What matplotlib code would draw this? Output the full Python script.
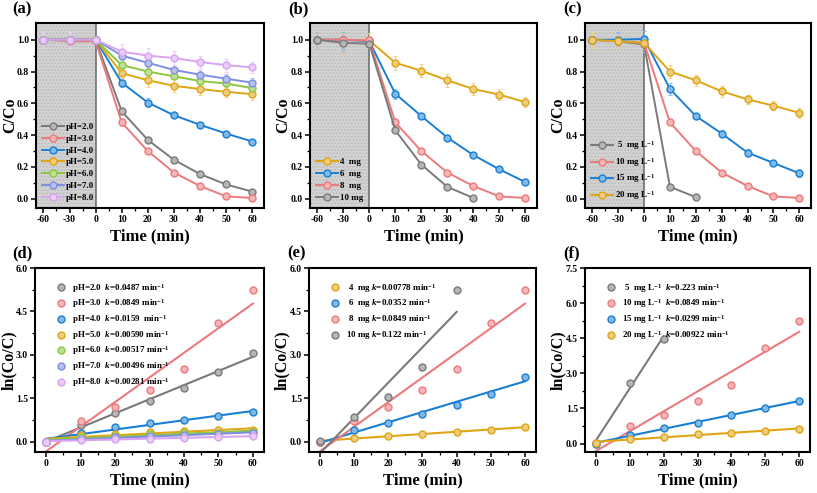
import numpy as np
import matplotlib
matplotlib.use('Agg')
import matplotlib.pyplot as plt
from matplotlib.colors import to_rgb

plt.rcParams['font.family'] = 'Liberation Serif'
plt.rcParams['font.weight'] = 'bold'
plt.rcParams['mathtext.fontset'] = 'custom'
plt.rcParams['mathtext.rm'] = 'Liberation Serif:bold'
plt.rcParams['mathtext.it'] = 'Liberation Serif:italic:bold'
plt.rcParams['mathtext.bf'] = 'Liberation Serif:bold'
plt.rcParams['axes.unicode_minus'] = False

# ---------------- data ----------------
t_full = [-60, -30, 0, 10, 20, 30, 40, 50, 60]
t_fit = [0, 10, 20, 30, 40, 50, 60]

GRAY = '#7a7a7a'
RED = '#ec7a7c'
BLUE = '#1a7fd4'
ORANGE = '#e0a514'
GREEN = '#8cc63f'
BLUEP = '#7d8fe0'
VIOLET = '#d9a3f2'

# (a) effect of pH, C/C0
ph_labels = ['pH=2.0', 'pH=3.0', 'pH=4.0', 'pH=5.0', 'pH=6.0', 'pH=7.0', 'pH=8.0']
ph_colors = [GRAY, RED, BLUE, ORANGE, GREEN, BLUEP, VIOLET]
ph_cc0 = [
    [1.0, 1.0, 1.0, 0.55, 0.37, 0.245, 0.155, 0.09, 0.045],
    [1.0, 0.99, 0.99, 0.48, 0.30, 0.165, 0.08, 0.015, 0.005],
    [1.0, 1.0, 1.0, 0.73, 0.605, 0.525, 0.465, 0.41, 0.36],
    [1.0, 1.0, 1.0, 0.79, 0.745, 0.71, 0.69, 0.672, 0.658],
    [1.0, 1.0, 1.0, 0.84, 0.80, 0.77, 0.74, 0.725, 0.695],
    [1.0, 1.0, 1.0, 0.90, 0.855, 0.81, 0.78, 0.755, 0.73],
    [1.0, 1.0, 1.0, 0.925, 0.90, 0.885, 0.86, 0.84, 0.826],
]
ph_err = [
    [0.02, 0.02, 0.02, 0.01, 0.01, 0.01, 0.01, 0.01, 0.01],
    [0.05, 0.03, 0.02, 0.02, 0.01, 0.01, 0.01, 0.01, 0.01],
    [0.02, 0.02, 0.02, 0.03, 0.03, 0.02, 0.02, 0.01, 0.01],
    [0.02, 0.02, 0.02, 0.03, 0.04, 0.04, 0.035, 0.035, 0.035],
    [0.02, 0.02, 0.02, 0.02, 0.02, 0.02, 0.02, 0.02, 0.02],
    [0.02, 0.05, 0.02, 0.03, 0.03, 0.03, 0.03, 0.03, 0.03],
    [0.05, 0.05, 0.02, 0.05, 0.045, 0.045, 0.04, 0.04, 0.035],
]

# (b) catalyst dosage, C/C0
dose_labels = ['4  mg', '6  mg', '8  mg', '10 mg']
dose_colors = [ORANGE, BLUE, RED, GRAY]
dose_t = [t_full, t_full, t_full, t_full[:7]]
dose_cc0 = [
    [1.0, 1.0, 0.995, 0.855, 0.805, 0.745, 0.69, 0.655, 0.607],
    [1.0, 1.0, 0.99, 0.66, 0.52, 0.385, 0.275, 0.185, 0.105],
    [1.0, 1.0, 0.995, 0.48, 0.30, 0.165, 0.08, 0.015, 0.005],
    [1.0, 0.98, 0.975, 0.43, 0.215, 0.075, 0.005],
]
dose_err = [
    [0.05, 0.04, 0.05, 0.045, 0.04, 0.04, 0.035, 0.035, 0.03],
    [0.02, 0.05, 0.02, 0.03, 0.02, 0.015, 0.01, 0.01, 0.01],
    [0.02, 0.02, 0.02, 0.01, 0.01, 0.01, 0.01, 0.01, 0.01],
    [0.05, 0.05, 0.03, 0.01, 0.01, 0.01, 0.01],
]

# (c) initial concentration, C/C0
conc_labels = [' 5  mg L$^{-1}$', '10 mg L$^{-1}$', '15 mg L$^{-1}$', '20 mg L$^{-1}$']
conc_colors = [GRAY, RED, BLUE, ORANGE]
conc_t = [t_full[:5], t_full, t_full, t_full]
conc_cc0 = [
    [1.0, 0.99, 0.97, 0.075, 0.01],
    [1.0, 0.99, 0.98, 0.48, 0.30, 0.165, 0.08, 0.015, 0.005],
    [1.0, 1.0, 1.005, 0.69, 0.52, 0.41, 0.29, 0.225, 0.16],
    [1.0, 0.99, 0.98, 0.80, 0.745, 0.675, 0.625, 0.585, 0.54],
]
conc_err = [
    [0.05, 0.03, 0.05, 0.01, 0.01],
    [0.02, 0.02, 0.02, 0.01, 0.01, 0.01, 0.01, 0.01, 0.01],
    [0.02, 0.05, 0.05, 0.035, 0.02, 0.02, 0.02, 0.02, 0.02],
    [0.05, 0.04, 0.04, 0.04, 0.035, 0.035, 0.03, 0.03, 0.03],
]

# (d) kinetics pH, ln(C0/C)
ph_k = ['0.0487 ', '0.0849 ', '0.0159  ', '0.00590 ', '0.00517 ', '0.00496 ', '0.00281 ']
ph_ln = [
    [0.0, 0.60, 1.0, 1.4, 1.85, 2.4, 3.07],
    [0.0, 0.73, 1.2, 1.8, 2.5, 4.1, 5.25],
    [0.0, 0.31, 0.5, 0.64, 0.77, 0.89, 1.02],
    [0.0, 0.23, 0.29, 0.34, 0.37, 0.40, 0.42],
    [0.0, 0.17, 0.22, 0.26, 0.30, 0.32, 0.36],
    [0.0, 0.10, 0.16, 0.21, 0.25, 0.28, 0.31],
    [0.0, 0.08, 0.10, 0.12, 0.15, 0.17, 0.19],
]

# (e) kinetics dosage
dose_k = ['0.00778 ', '0.0352 ', '0.0849 ', '0.122 ']
dose_lbl2 = [' 4  mg', ' 6  mg', ' 8  mg', '10 mg']
dose_ln_t = [t_fit, t_fit, t_fit, t_fit[:5]]
dose_ln = [
    [0.0, 0.15, 0.21, 0.29, 0.36, 0.42, 0.50],
    [0.0, 0.41, 0.66, 0.96, 1.29, 1.67, 2.25],
    [0.0, 0.73, 1.2, 1.8, 2.5, 4.1, 5.25],
    [0.02, 0.85, 1.54, 2.58, 5.25],
]

# (f) kinetics concentration
conc_k = ['0.223 ', '0.0849 ', '0.0299 ', '0.00922 ']
conc_ln_t = [t_fit[:3], t_fit, t_fit, t_fit]
conc_ln = [
    [0.02, 2.57, 4.48],
    [0.0, 0.73, 1.2, 1.8, 2.5, 4.1, 5.25],
    [0.0, 0.37, 0.65, 0.90, 1.23, 1.50, 1.83],
    [0.02, 0.20, 0.29, 0.39, 0.47, 0.54, 0.62],
]


# ---------------- helpers ----------------
def tint(c, f=0.45):
    r = np.array(to_rgb(c))
    return tuple(r + (1 - r) * f)


def fwd(t):
    t = np.asarray(t, dtype=float)
    return np.where(t < 0, t / 30.0, t / 10.0)


def inv(p):
    p = np.asarray(p, dtype=float)
    return np.where(p < 0, p * 30.0, p * 10.0)


def style_axes(ax):
    for s in ax.spines.values():
        s.set_linewidth(1.5)
    ax.tick_params(which='major', direction='out', length=3.5, width=1.1, labelsize=7, pad=1.5)
    ax.tick_params(which='minor', direction='out', length=2, width=0.9)


def cc0_panel(ax, ts, ys, errs, colors, labels):
    ax.set_xscale('function', functions=(fwd, inv))
    ax.set_xlim(-68.5, 64.5)
    ax.set_ylim(-0.058, 1.105)
    ax.axvspan(-68.5, 0, facecolor='#d4d4d4', edgecolor='#bcbcbc', hatch='.....', lw=0, zorder=0)
    ax.axvline(0, color='#666666', lw=1.1, zorder=1)
    for t, y, e, c, lab in zip(ts, ys, errs, colors, labels):
        ax.errorbar(t, y, yerr=e, fmt='none', ecolor=tint(c, 0.5), elinewidth=0.8,
                    capsize=1.6, capthick=0.8, zorder=2)
        ax.plot(t, y, '-o', color=c, lw=1.4, ms=5, mfc=tint(c), mec=c, mew=1.0,
                label=lab, zorder=3)
    ax.set_xticks([-60, -30, 0, 10, 20, 30, 40, 50, 60])
    ax.set_xticklabels(['-60', '-30', '0', '10', '20', '30', '40', '50', '60'])
    ax.set_xticks([-45, -15, 5, 15, 25, 35, 45, 55], minor=True)
    ax.set_yticks(np.arange(0, 1.01, 0.2))
    ax.set_yticks(np.arange(0.1, 1.01, 0.2), minor=True)
    ax.yaxis.set_major_formatter(matplotlib.ticker.FormatStrFormatter('%.1f'))
    ax.set_xlabel('Time (min)', fontsize=12, fontweight='bold', labelpad=3)
    ax.set_ylabel('C/Co', fontsize=11.5, fontweight='bold')
    ax.legend(loc='lower left', frameon=False, fontsize=6.5, handlelength=2.4,
              handletextpad=0.2, labelspacing=0.38, borderaxespad=0.3,
              bbox_to_anchor=(0.0, 0.0))
    style_axes(ax)


def kin_panel(ax, ts, ys, colors, labels, ymax, ylow):
    for t, y, c, lab in zip(ts, ys, colors, labels):
        t = np.array(t, dtype=float)
        y = np.array(y, dtype=float)
        p = np.polyfit(t, y, 1)
        xx = np.array([t.min(), t.max()])
        ax.plot(xx, np.polyval(p, xx), '-', color=c, lw=1.5, zorder=2)
        ax.plot(t, y, 'o', color=c, ms=5, mfc=tint(c), mec=c, mew=1.0, label=lab, zorder=3)
    ax.set_xlim(-3.2, 63.2)
    ax.set_ylim(ylow, ymax)
    ax.set_xticks(np.arange(0, 61, 10))
    ax.set_xticks(np.arange(5, 60, 10), minor=True)
    ax.set_yticks(np.arange(0, ymax + 0.01, 1.5))
    ax.set_yticks(np.arange(0.75, ymax, 1.5), minor=True)
    ax.yaxis.set_major_formatter(matplotlib.ticker.FormatStrFormatter('%.1f'))
    ax.set_xlabel('Time (min)', fontsize=12, fontweight='bold', labelpad=3)
    ax.set_ylabel('ln(Co/C)', fontsize=11.5, fontweight='bold')
    ax.legend(loc='upper left', frameon=False, fontsize=6.5, handlelength=1.0,
              handletextpad=0.7, labelspacing=0.3, borderaxespad=0.5,
              bbox_to_anchor=(0.06, 0.97))
    style_axes(ax)


# ---------------- figure ----------------
fig = plt.figure(figsize=(8.17, 4.93), dpi=100)
W, H = 817.0, 493.0


def add_ax(x0, x1, ytop, ybot, ylab_right):
    ax = fig.add_axes([x0 / W, 1 - ybot / H, (x1 - x0) / W, (ybot - ytop) / H])
    ax._ylab = (ylab_right - x0) / (x1 - x0)
    return ax


axa = add_ax(36, 264, 23, 208, 18)
axb = add_ax(310, 537, 23, 208, 291)
axc = add_ax(585, 811, 23, 208, 566)
axd = add_ax(35, 264, 268, 452, 17)
axe = add_ax(309, 536, 268, 452, 290)
axf = add_ax(585, 810, 268, 452, 566)

cc0_panel(axa, [t_full] * 7, ph_cc0, ph_err, ph_colors, ph_labels)
cc0_panel(axb, dose_t, dose_cc0, dose_err, dose_colors, dose_labels)
cc0_panel(axc, conc_t, conc_cc0, conc_err, conc_colors, conc_labels)

kin_panel(axd, [t_fit] * 7, ph_ln, ph_colors,
          [f'{l}  $k$={k}min$^{{-1}}$' for l, k in zip(ph_labels, ph_k)], 6.0, -0.345)
kin_panel(axe, dose_ln_t, dose_ln, dose_colors,
          [f'{l} $k$={k}min$^{{-1}}$' for l, k in zip(dose_lbl2, dose_k)], 6.0, -0.345)
kin_panel(axf, conc_ln_t, conc_ln, conc_colors,
          [f'{l}  $k$={k}min$^{{-1}}$' for l, k in zip(conc_labels, conc_k)], 7.5, -0.36)

for ax in [axa, axb, axc, axd, axe, axf]:
    ax.yaxis.set_label_coords(ax._ylab, 0.5)

for lab, x, y in [('(a)', 22, 9), ('(b)', 298, 9), ('(c)', 573, 9),
                  ('(d)', 22, 253), ('(e)', 297, 253), ('(f)', 572, 253)]:
    fig.text(x / W, 1 - y / H, lab, fontsize=12, fontweight='bold', ha='center', va='center')

fig.savefig('out.png', dpi=100)
